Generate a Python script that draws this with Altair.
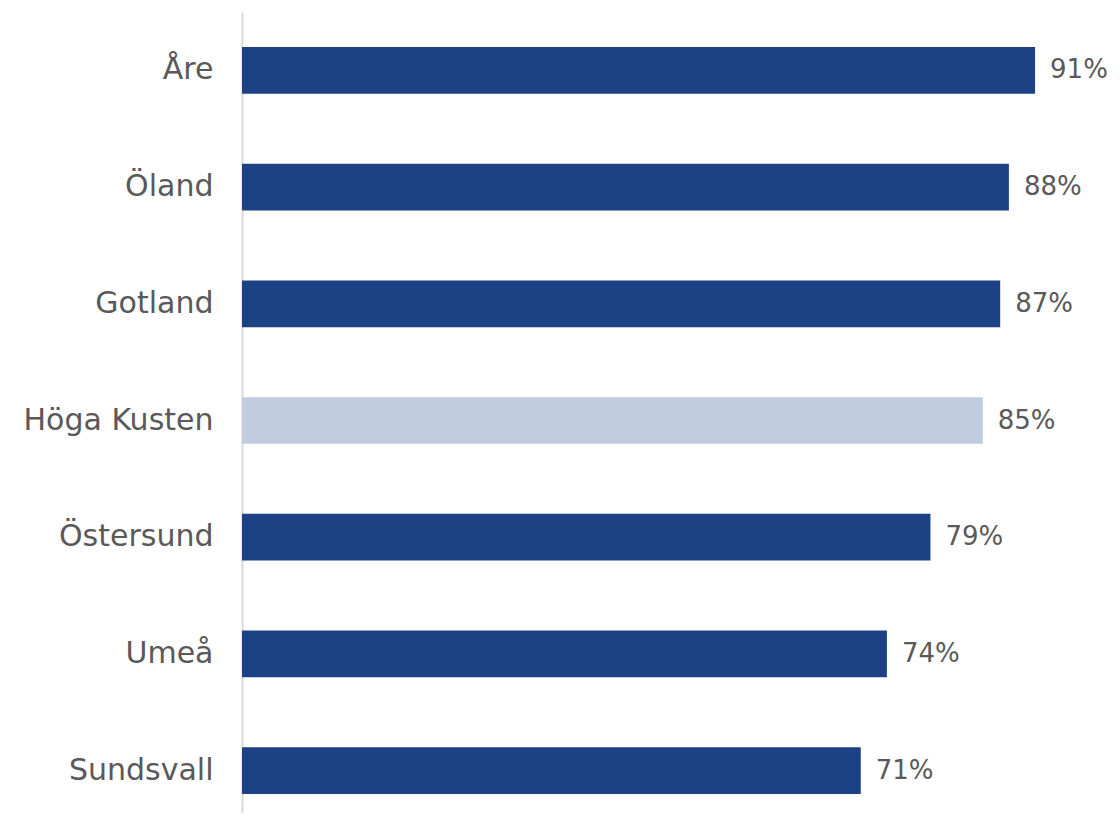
import altair as alt
import pandas as pd

places = ["Åre", "Öland", "Gotland", "Höga Kusten", "Östersund", "Umeå", "Sundsvall"]
values = [91, 88, 87, 85, 79, 74, 71]
highlight = [False, False, False, True, False, False, False]

df = pd.DataFrame({"place": places, "value": values, "hl": highlight})
df["label"] = df["value"].astype(str) + "%"

y = alt.Y("place:N", sort=places, title=None,
          scale=alt.Scale(paddingInner=0.6, paddingOuter=0.3, range=[0, 817]),
          axis=alt.Axis(domainColor="#d9d9d9", domainWidth=2, ticks=False,
                        labelFont="DejaVu Sans", labelFontSize=30, labelColor="#595959",
                        labelPadding=29, labelLimit=400, grid=False))
x = alt.X("value:Q", title=None, scale=alt.Scale(domain=[0, 99.6], nice=False), axis=None)

bars = alt.Chart(df).mark_bar().encode(
    x=x, y=y,
    color=alt.Color("hl:N", scale=alt.Scale(domain=[False, True], range=["#1d4185", "#c1cce0"]), legend=None),
)
text = alt.Chart(df).mark_text(align="left", baseline="middle", dx=15, font="DejaVu Sans",
                               fontSize=26, color="#595959").encode(
    x=x, y=alt.Y("place:N", sort=places), text="label:N")

chart = (bars + text).properties(
    width=868, height=801,
    autosize=alt.AutoSizeParams(type="none"),
    padding={"left": 234, "top": 4, "right": 0, "bottom": 0},
).configure_view(stroke=None)

chart.save("out.html", embed_options={"renderer": "svg", "actions": False})
